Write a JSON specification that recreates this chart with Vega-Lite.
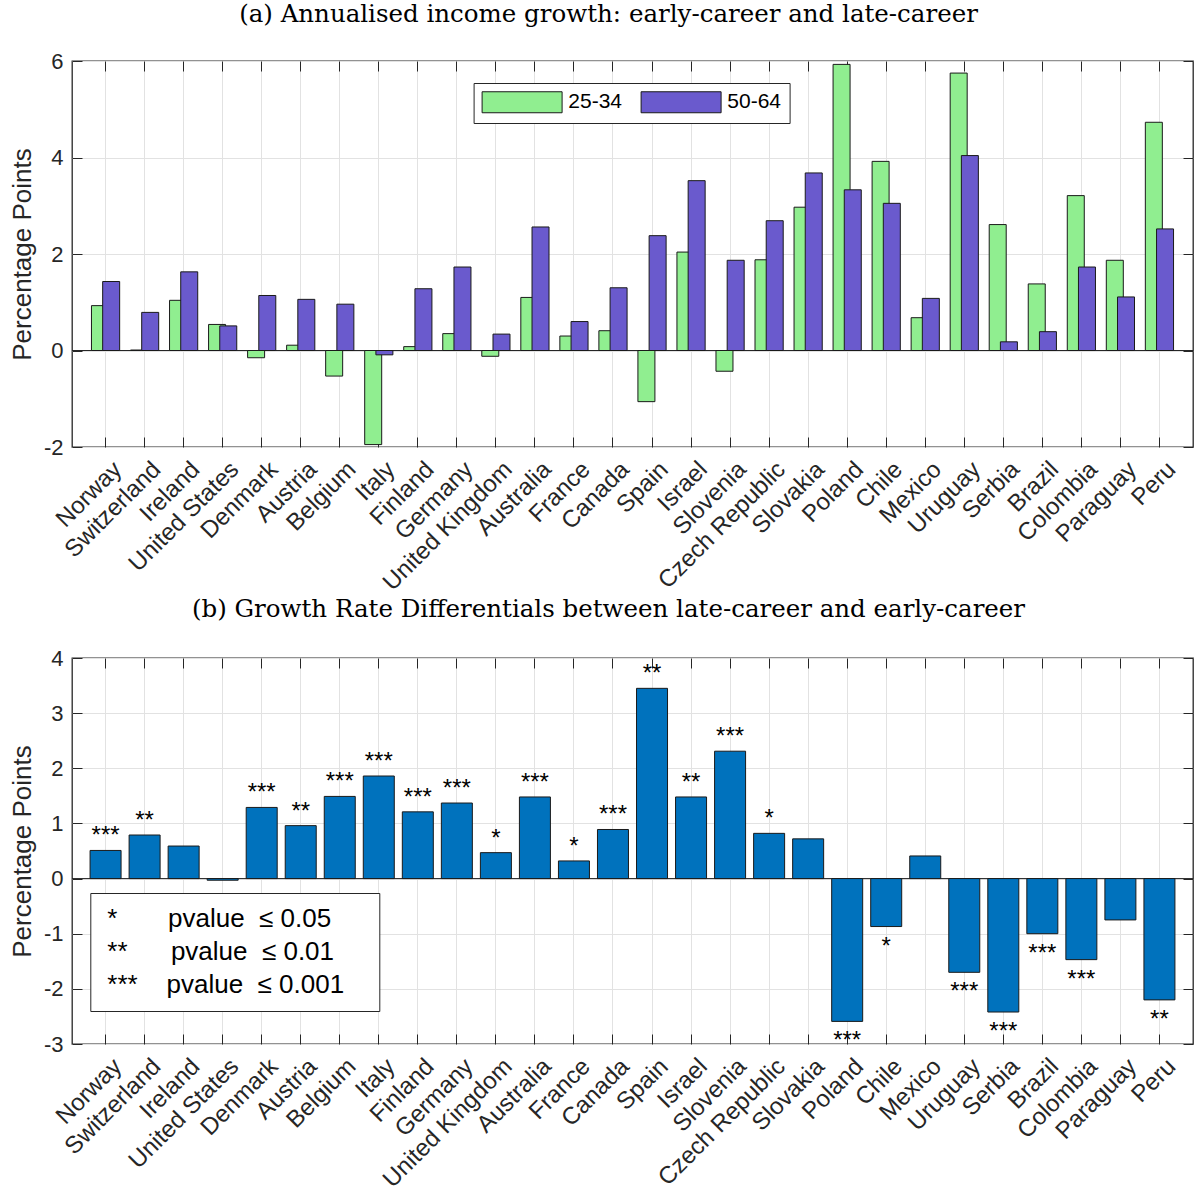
{
  "$schema": "https://vega.github.io/schema/vega-lite/v6.json",
  "padding": {"left": 8, "top": 0, "right": 0, "bottom": 0},
  "spacing": -1,
  "background": "white",
  "resolve": {"scale": {"color": "independent"}, "legend": {"color": "independent"}},
  "config": {
    "view": {"stroke": "#262626", "strokeWidth": 1.3},
    "font": "Liberation Sans",
    "axis": {"domain": false, "labelFont": "Liberation Sans", "labelColor": "#262626", "titleFont": "Liberation Sans", "titleFontWeight": "normal", "titleColor": "#262626", "gridColor": "#e2e2e2", "gridOpacity": 1, "tickColor": "#262626", "tickSize": -10, "tickWidth": 1},
    "title": {"font": "DejaVu Serif", "fontSize": 24.5, "fontWeight": "normal", "color": "#000000", "anchor": "middle", "baseline": "alphabetic", "dx": -24}
  },
  "datasets": {
    "growth": [
      {"country": "Norway", "group": "25-34", "value": 0.93}, {"country": "Norway", "group": "50-64", "value": 1.43},
      {"country": "Switzerland", "group": "25-34", "value": 0.01}, {"country": "Switzerland", "group": "50-64", "value": 0.79},
      {"country": "Ireland", "group": "25-34", "value": 1.04}, {"country": "Ireland", "group": "50-64", "value": 1.63},
      {"country": "United States", "group": "25-34", "value": 0.54}, {"country": "United States", "group": "50-64", "value": 0.51},
      {"country": "Denmark", "group": "25-34", "value": -0.15}, {"country": "Denmark", "group": "50-64", "value": 1.14},
      {"country": "Austria", "group": "25-34", "value": 0.11}, {"country": "Austria", "group": "50-64", "value": 1.06},
      {"country": "Belgium", "group": "25-34", "value": -0.53}, {"country": "Belgium", "group": "50-64", "value": 0.96},
      {"country": "Italy", "group": "25-34", "value": -1.95}, {"country": "Italy", "group": "50-64", "value": -0.09},
      {"country": "Finland", "group": "25-34", "value": 0.08}, {"country": "Finland", "group": "50-64", "value": 1.28},
      {"country": "Germany", "group": "25-34", "value": 0.35}, {"country": "Germany", "group": "50-64", "value": 1.73},
      {"country": "United Kingdom", "group": "25-34", "value": -0.12}, {"country": "United Kingdom", "group": "50-64", "value": 0.34},
      {"country": "Australia", "group": "25-34", "value": 1.10}, {"country": "Australia", "group": "50-64", "value": 2.56},
      {"country": "France", "group": "25-34", "value": 0.30}, {"country": "France", "group": "50-64", "value": 0.60},
      {"country": "Canada", "group": "25-34", "value": 0.41}, {"country": "Canada", "group": "50-64", "value": 1.30},
      {"country": "Spain", "group": "25-34", "value": -1.06}, {"country": "Spain", "group": "50-64", "value": 2.38},
      {"country": "Israel", "group": "25-34", "value": 2.04}, {"country": "Israel", "group": "50-64", "value": 3.52},
      {"country": "Slovenia", "group": "25-34", "value": -0.43}, {"country": "Slovenia", "group": "50-64", "value": 1.87},
      {"country": "Czech Republic", "group": "25-34", "value": 1.88}, {"country": "Czech Republic", "group": "50-64", "value": 2.69},
      {"country": "Slovakia", "group": "25-34", "value": 2.97}, {"country": "Slovakia", "group": "50-64", "value": 3.68},
      {"country": "Poland", "group": "25-34", "value": 5.93}, {"country": "Poland", "group": "50-64", "value": 3.33},
      {"country": "Chile", "group": "25-34", "value": 3.92}, {"country": "Chile", "group": "50-64", "value": 3.05},
      {"country": "Mexico", "group": "25-34", "value": 0.68}, {"country": "Mexico", "group": "50-64", "value": 1.08},
      {"country": "Uruguay", "group": "25-34", "value": 5.75}, {"country": "Uruguay", "group": "50-64", "value": 4.04},
      {"country": "Serbia", "group": "25-34", "value": 2.61}, {"country": "Serbia", "group": "50-64", "value": 0.18},
      {"country": "Brazil", "group": "25-34", "value": 1.38}, {"country": "Brazil", "group": "50-64", "value": 0.39},
      {"country": "Colombia", "group": "25-34", "value": 3.21}, {"country": "Colombia", "group": "50-64", "value": 1.73},
      {"country": "Paraguay", "group": "25-34", "value": 1.87}, {"country": "Paraguay", "group": "50-64", "value": 1.11},
      {"country": "Peru", "group": "25-34", "value": 4.73}, {"country": "Peru", "group": "50-64", "value": 2.52}
    ],
    "diff": [
      {"country": "Norway", "diff": 0.51, "sig": "***"},
      {"country": "Switzerland", "diff": 0.79, "sig": "**"},
      {"country": "Ireland", "diff": 0.59, "sig": ""},
      {"country": "United States", "diff": -0.03, "sig": ""},
      {"country": "Denmark", "diff": 1.29, "sig": "***"},
      {"country": "Austria", "diff": 0.96, "sig": "**"},
      {"country": "Belgium", "diff": 1.49, "sig": "***"},
      {"country": "Italy", "diff": 1.86, "sig": "***"},
      {"country": "Finland", "diff": 1.21, "sig": "***"},
      {"country": "Germany", "diff": 1.37, "sig": "***"},
      {"country": "United Kingdom", "diff": 0.47, "sig": "*"},
      {"country": "Australia", "diff": 1.48, "sig": "***"},
      {"country": "France", "diff": 0.32, "sig": "*"},
      {"country": "Canada", "diff": 0.89, "sig": "***"},
      {"country": "Spain", "diff": 3.45, "sig": "**"},
      {"country": "Israel", "diff": 1.48, "sig": "**"},
      {"country": "Slovenia", "diff": 2.31, "sig": "***"},
      {"country": "Czech Republic", "diff": 0.82, "sig": "*"},
      {"country": "Slovakia", "diff": 0.72, "sig": ""},
      {"country": "Poland", "diff": -2.59, "sig": "***"},
      {"country": "Chile", "diff": -0.87, "sig": "*"},
      {"country": "Mexico", "diff": 0.41, "sig": ""},
      {"country": "Uruguay", "diff": -1.70, "sig": "***"},
      {"country": "Serbia", "diff": -2.42, "sig": "***"},
      {"country": "Brazil", "diff": -1.00, "sig": "***"},
      {"country": "Colombia", "diff": -1.47, "sig": "***"},
      {"country": "Paraguay", "diff": -0.75, "sig": ""},
      {"country": "Peru", "diff": -2.20, "sig": "**"}
    ]
  },
  "vconcat": [
    {
      "width": 1121,
      "height": 386,
      "title": {"text": "(a) Annualised income growth: early-career and late-career", "offset": 23},
      "data": {"name": "growth"},
      "layer": [
        {
          "data": {"values": [{}]},
          "mark": {"type": "rule", "color": "#262626", "strokeWidth": 1},
          "encoding": {"y": {"datum": 0, "type": "quantitative", "axis": null}}
        },
        {
          "transform": [{"filter": "datum.group === '25-34'"}],
          "mark": {"type": "bar", "width": 17, "xOffset": -5.6, "stroke": "#1a1a1a", "strokeWidth": 1},
          "encoding": {
            "x": {"field": "country", "type": "nominal", "title": null,
              "scale": {"domain": ["Norway","Switzerland","Ireland","United States","Denmark","Austria","Belgium","Italy","Finland","Germany","United Kingdom","Australia","France","Canada","Spain","Israel","Slovenia","Czech Republic","Slovakia","Poland","Chile","Mexico","Uruguay","Serbia","Brazil","Colombia","Paraguay","Peru"], "paddingInner": 0, "paddingOuter": 0.36},
              "axis": {"orient": "bottom", "labelAngle": -45, "labelAlign": "right", "labelBaseline": "top", "labelFontSize": 24, "labelPadding": 20, "labelOffset": 4, "grid": true, "bandPosition": 0.5, "labelLimit": 400}},
            "y": {"field": "value", "type": "quantitative",
              "scale": {"domain": [-2, 6], "nice": false, "zero": false},
              "axis": {"orient": "left", "title": "Percentage Points", "titleFontSize": 26, "titlePadding": 8, "values": [-2, 0, 2, 4, 6], "labelFontSize": 22, "labelPadding": 19, "grid": true, "labelExpr": "'' + datum.value"}},
            "color": {"field": "group", "type": "nominal",
              "scale": {"domain": ["25-34", "50-64"], "range": ["#90EE90", "#6A5ACD"]},
              "legend": {"orient": "none", "legendX": 401.6, "legendY": 22, "direction": "horizontal", "title": null, "symbolType": "M-1,-1H6.619V1H-1Z", "symbolSize": 441, "symbolStrokeColor": "#1a1a1a", "symbolStrokeWidth": 1, "symbolOpacity": 1, "labelFont": "Liberation Sans", "labelFontSize": 21, "labelColor": "#000000", "labelOffset": 64.7, "columnPadding": 16, "padding": 8, "strokeColor": "#262626", "fillColor": "#ffffff", "labelLimit": 300}}
          }
        },
        {
          "transform": [{"filter": "datum.group === '50-64'"}],
          "mark": {"type": "bar", "width": 17, "xOffset": 5.6, "stroke": "#1a1a1a", "strokeWidth": 1},
          "encoding": {
            "x": {"field": "country", "type": "nominal", "title": null,
              "axis": {"orient": "top", "labels": false, "grid": false, "title": null, "bandPosition": 0.5}},
            "y": {"field": "value", "type": "quantitative",
              "axis": {"orient": "right", "labels": false, "grid": false, "title": null, "values": [-2, 0, 2, 4, 6]}},
            "color": {"field": "group", "type": "nominal"}
          }
        }
      ]
    },
    {
      "width": 1121,
      "height": 386,
      "title": {"text": "(b) Growth Rate Differentials between late-career and early-career", "offset": 24.9},
      "data": {"name": "diff"},
      "layer": [
        {
          "data": {"values": [{}]},
          "mark": {"type": "rule", "color": "#262626", "strokeWidth": 1},
          "encoding": {"y": {"datum": 0, "type": "quantitative", "axis": null}}
        },
        {
          "mark": {"type": "bar", "width": 31, "fill": "#0072BD", "stroke": "#1a1a1a", "strokeWidth": 1},
          "encoding": {
            "x": {"field": "country", "type": "nominal", "title": null,
              "scale": {"domain": ["Norway","Switzerland","Ireland","United States","Denmark","Austria","Belgium","Italy","Finland","Germany","United Kingdom","Australia","France","Canada","Spain","Israel","Slovenia","Czech Republic","Slovakia","Poland","Chile","Mexico","Uruguay","Serbia","Brazil","Colombia","Paraguay","Peru"], "paddingInner": 0, "paddingOuter": 0.36},
              "axis": {"orient": "bottom", "labelAngle": -45, "labelAlign": "right", "labelBaseline": "top", "labelFontSize": 24, "labelPadding": 20, "labelOffset": 4, "grid": true, "bandPosition": 0.5, "labelLimit": 400}},
            "y": {"field": "diff", "type": "quantitative",
              "scale": {"domain": [-3, 4], "nice": false, "zero": false},
              "axis": {"orient": "left", "title": "Percentage Points", "titleFontSize": 26, "titlePadding": 8, "values": [-3, -2, -1, 0, 1, 2, 3, 4], "labelFontSize": 22, "labelPadding": 19, "grid": true, "labelExpr": "'' + datum.value"}}
          }
        },
        {
          "transform": [{"filter": "datum.diff > 0 && datum.sig !== ''"}],
          "mark": {"type": "text", "baseline": "alphabetic", "dy": -7, "fontSize": 24, "font": "Liberation Sans"},
          "encoding": {
            "x": {"field": "country", "type": "nominal", "axis": null},
            "y": {"field": "diff", "type": "quantitative", "axis": null},
            "text": {"field": "sig"},
            "color": {"field": "sig", "type": "nominal",
              "scale": {"domain": ["*", "**", "***"], "range": ["#000000", "#000000", "#000000"]},
              "legend": {"orient": "none", "legendX": 18.3, "legendY": 235, "title": null, "symbolSize": 0, "symbolOpacity": 0, "symbolStrokeWidth": 0, "labelFont": "Liberation Sans", "labelFontSize": 26, "labelColor": "#000000", "labelOffset": -22, "padding": 13, "rowPadding": 7, "strokeColor": "#262626", "fillColor": "#ffffff", "labelLimit": 500,
                "labelExpr": "datum.label === '*' ? '*\u00a0\u00a0\u00a0\u00a0\u00a0\u00a0\u00a0pvalue\u00a0\u00a0≤\u00a00.05' : datum.label === '**' ? '**\u00a0\u00a0\u00a0\u00a0\u00a0\u00a0pvalue\u00a0\u00a0≤\u00a00.01' : '***\u00a0\u00a0\u00a0\u00a0pvalue\u00a0\u00a0≤\u00a00.001\u00a0\u00a0\u00a0\u200b'"}}
          }
        },
        {
          "transform": [{"filter": "datum.diff < 0 && datum.sig !== ''"}],
          "mark": {"type": "text", "baseline": "alphabetic", "dy": 27, "fontSize": 24, "font": "Liberation Sans", "color": "#000000"},
          "encoding": {
            "x": {"field": "country", "type": "nominal",
              "axis": {"orient": "top", "labels": false, "grid": false, "title": null, "bandPosition": 0.5}},
            "y": {"field": "diff", "type": "quantitative",
              "axis": {"orient": "right", "labels": false, "grid": false, "title": null, "values": [-3, -2, -1, 0, 1, 2, 3, 4]}},
            "text": {"field": "sig"}
          }
        }
      ]
    }
  ]
}
